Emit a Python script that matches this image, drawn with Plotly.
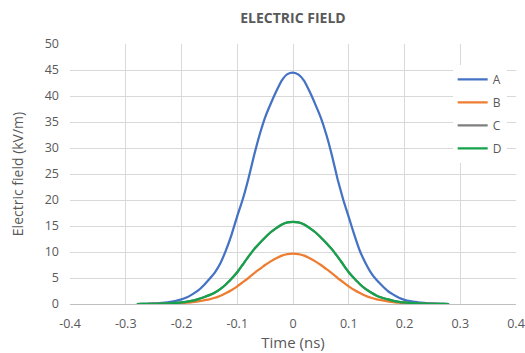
import numpy as np
import plotly.graph_objects as go

time_ns = [round(-0.28 + 0.01 * i, 2) for i in range(57)]

A_neg = [0.0, 0.03, 0.05, 0.1, 0.15, 0.25, 0.4, 0.6, 0.9, 1.3, 1.9, 2.6, 3.6, 4.8, 6.1, 7.9, 10.4, 13.4,
         16.9, 20.2, 24.1, 28.5, 32.5, 35.9, 38.5, 40.9, 43.0, 44.2]
A_pos = [44.1, 42.9, 40.8, 38.4, 35.8, 32.5, 28.5, 24.0, 20.1, 16.7, 13.3, 10.2, 7.9, 6.0, 4.6, 3.5, 2.5,
         1.8, 1.2, 0.8, 0.55, 0.4, 0.25, 0.15, 0.1, 0.05, 0.02, 0.0]
A = A_neg + [44.5] + A_pos

B_neg = [0.0, 0.0, 0.0, 0.01, 0.02, 0.03, 0.05, 0.1, 0.15, 0.25, 0.35, 0.5, 0.7, 0.9, 1.2, 1.6, 2.1, 2.7,
         3.4, 4.2, 5.0, 5.9, 6.7, 7.5, 8.2, 8.8, 9.3, 9.6]
B_pos = [9.6, 9.3, 8.8, 8.2, 7.5, 6.7, 5.9, 5.0, 4.2, 3.4, 2.7, 2.1, 1.6, 1.2, 0.9, 0.7, 0.5, 0.35, 0.25,
         0.15, 0.1, 0.05, 0.03, 0.02, 0.01, 0.0, 0.0, 0.0]
B = B_neg + [9.7] + B_pos

D_neg = [0.0, 0.01, 0.02, 0.03, 0.05, 0.08, 0.12, 0.2, 0.3, 0.45, 0.65, 0.95, 1.3, 1.7, 2.2, 2.9, 3.8,
         4.9, 6.1, 7.6, 9.1, 10.5, 11.7, 12.8, 13.8, 14.6, 15.3, 15.7]
D_pos = [15.7, 15.3, 14.6, 13.8, 12.8, 11.7, 10.5, 9.1, 7.6, 6.1, 4.9, 3.8, 2.9, 2.2, 1.6, 1.2, 0.9, 0.6,
         0.4, 0.3, 0.2, 0.12, 0.08, 0.05, 0.03, 0.02, 0.01, 0.0]
D = D_neg + [15.8] + D_pos
C = list(D)

series_names = ["A", "B", "C", "D"]
series_values = [A, B, C, D]
series_colors = ["#4472C4", "#ED7D31", "#7F7F7F", "#14A24A"]

x_ticks = [-0.4, -0.3, -0.2, -0.1, 0, 0.1, 0.2, 0.3, 0.4]
x_tick_labels = ["-0.4", "-0.3", "-0.2", "-0.1", "0", "0.1", "0.2", "0.3", "0.4"]
y_ticks = [0, 5, 10, 15, 20, 25, 30, 35, 40, 45, 50]

FONT = "Open Sans, Liberation Sans, sans-serif"
TXT = "#595959"

fig = go.Figure()
for name, vals, col in zip(series_names, series_values, series_colors):
    fig.add_trace(go.Scatter(x=time_ns, y=vals, name=name, mode="lines",
                             line=dict(color=col, width=2.25, shape="spline", smoothing=0.5),
                             legendgroup=name))

fig.update_layout(
    width=525, height=353,
    margin=dict(l=70, r=9, t=44, b=49, autoexpand=False),
    paper_bgcolor="white", plot_bgcolor="white",
    font=dict(family=FONT, size=12, color=TXT),
    title=dict(text="<b>ELECTRIC FIELD</b>", x=(70 + 516) / 2 / 525, xanchor="center",
               y=1 - 18 / 353, yanchor="middle", font=dict(size=14, color=TXT, family=FONT)),
    showlegend=True,
    legend=dict(x=0.858, y=0.92, xanchor="left", yanchor="top", bgcolor="white",
                font=dict(size=12, color=TXT), tracegroupgap=4, traceorder="grouped",
                itemwidth=30),
    xaxis=dict(range=[-0.4, 0.4], tickvals=x_ticks, ticktext=x_tick_labels, automargin=True,
               showgrid=True, gridcolor="#D9D9D9", gridwidth=1, zeroline=False,
               showline=True, linecolor="#BFBFBF", linewidth=1, ticks="", ticklabelstandoff=8,
               title=dict(text="Time (ns)", font=dict(size=15, color=TXT), standoff=4),
               tickfont=dict(size=12.5, color=TXT)),
    yaxis=dict(range=[0, 50], tickvals=y_ticks, showgrid=True, gridcolor="#D9D9D9", automargin=True,
               gridwidth=1, zeroline=False, showline=False, ticks="", ticklabelstandoff=10,
               title=dict(text="Electric field (kV/m)", font=dict(size=14, color=TXT), standoff=17),
               tickfont=dict(size=12.5, color=TXT)),
)

fig.write_html("out.html")
